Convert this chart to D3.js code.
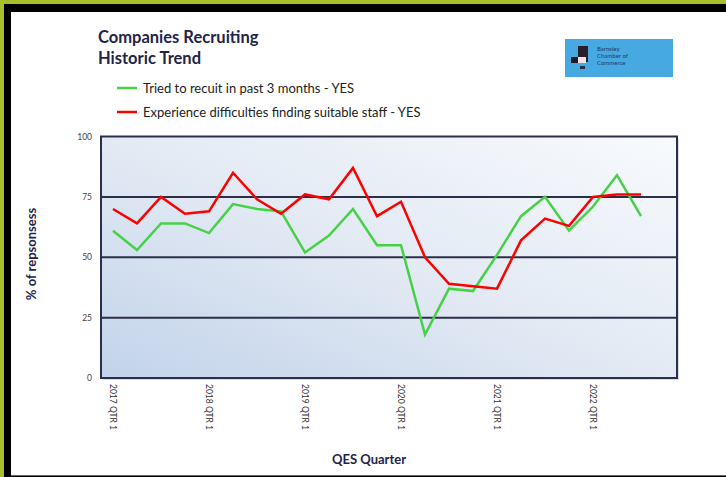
<!DOCTYPE html>
<html>
<head>
<meta charset="utf-8">
<script src="https://cdn.jsdelivr.net/npm/d3@7"></script>
<style>
  body { margin: 0; padding: 0; background: #fff; }
  svg { display: block; font-family: Lato, "Open Sans", sans-serif; }
</style>
</head>
<body>
<div class="plot"></div>
<script>
// quarters on the category axis (last slot is empty)
let years = [2017, 2018, 2019, 2020, 2021, 2022]
let quarters = []
years.forEach(function(y){
  for (let q = 1; q <= 4; q++) quarters.push(y + " QTR " + q)
})
let tried = [61, 53, 64, 64, 60, 72, 70, 69, 52, 59, 70, 55, 55, 18, 37, 36, 51, 67, 75, 61, 71, 84, 67]
let difficulties = [70, 64, 75, 68, 69, 85, 74, 68, 76, 74, 87, 67, 73, 50, 39, 38, 37, 57, 66, 63, 75, 76, 76]
let yTicks = [0, 25, 50, 75, 100]
let seriesNames = ["Tried to recuit in past 3 months - YES", "Experience difficulties finding suitable staff - YES"]
let seriesColors = ["#47d147", "#ff0000"]

let W = 726, H = 477
let plot = {left: 101, right: 677, top: 136.5, bottom: 378}

let svg = d3.select(".plot")
            .append("svg")
            .attr("width", W)
            .attr("height", H)

// page frame: green edge, black band, white sheet
svg.append("rect").attr("width", W).attr("height", H).attr("fill", "#a6bf2d")
svg.append("rect").attr("x", 4).attr("y", 4).attr("width", W - 4).attr("height", H - 4).attr("fill", "#000")
svg.append("rect").attr("x", 11).attr("y", 12).attr("width", W - 11).attr("height", H - 14).attr("fill", "#fff")
svg.append("line").attr("x1", 11).attr("x2", W).attr("y1", H - 1.5).attr("y2", H - 1.5)
   .attr("stroke", "#666").attr("stroke-width", 1)

// title
let title = svg.append("text")
   .attr("x", 98).attr("y", 43)
   .attr("fill", "#23244a").attr("font-weight", "bold").attr("font-size", 16.5)
title.append("tspan").text("Companies Recruiting")
title.append("tspan").attr("x", 98).attr("dy", 21).text("Historic Trend")

// logo box
let logo = svg.append("g").attr("transform", "translate(565,39)")
logo.append("rect").attr("width", 108).attr("height", 38).attr("fill", "#46a9e2")
logo.append("rect").attr("x", 13).attr("y", 7).attr("width", 10).attr("height", 16).attr("fill", "#2a1d2a")
logo.append("rect").attr("x", 6).attr("y", 18).attr("width", 9).attr("height", 6).attr("fill", "#1d1d2a")
logo.append("rect").attr("x", 13).attr("y", 18).attr("width", 8).attr("height", 6).attr("fill", "#f3e3e3")
logo.append("rect").attr("x", 15).attr("y", 27).attr("width", 5).attr("height", 3).attr("fill", "#234")
let logoText = logo.append("text").attr("x", 32).attr("y", 12)
   .attr("font-size", 6).attr("fill", "#1e3a6a")
logoText.append("tspan").text("Barnsley")
logoText.append("tspan").attr("x", 32).attr("dy", 7).text("Chamber of")
logoText.append("tspan").attr("x", 32).attr("dy", 7).text("Commerce")

// legend
let legend = svg.selectAll(".legend")
   .data(seriesNames)
   .enter()
   .append("g")
   .attr("class", "legend")
   .attr("transform", function(d, i){ return "translate(117," + (88 + i * 24) + ")" })
legend.append("line")
   .attr("x1", 0).attr("x2", 20)
   .attr("stroke", function(d, i){ return seriesColors[i] })
   .attr("stroke-width", 2.5)
legend.append("text")
   .attr("x", 26).attr("dy", "0.35em")
   .attr("font-size", 13).attr("fill", "#222")
   .text(function(d){ return d })

// scales
let xScale = d3.scaleBand().domain(quarters).range([plot.left, plot.right])
let yScale = d3.scaleLinear().domain([0, 100]).range([plot.bottom, plot.top])

// plot background gradient
let defs = svg.append("defs")
let grad = defs.append("linearGradient").attr("id", "bg")
   .attr("x1", "0%").attr("y1", "100%").attr("x2", "100%").attr("y2", "0%")
grad.append("stop").attr("offset", "0%").attr("stop-color", "#c2d3ea")
grad.append("stop").attr("offset", "50%").attr("stop-color", "#e3eaf4")
grad.append("stop").attr("offset", "100%").attr("stop-color", "#f8fafd")

// faint shadow
svg.append("rect")
   .attr("x", plot.left + 2).attr("y", plot.top + 2)
   .attr("width", plot.right - plot.left).attr("height", plot.bottom - plot.top)
   .attr("fill", "#d9dde6")
svg.append("rect")
   .attr("x", plot.left).attr("y", plot.top)
   .attr("width", plot.right - plot.left).attr("height", plot.bottom - plot.top)
   .attr("fill", "url(#bg)")

// gridlines
svg.selectAll(".grid")
   .data(yTicks.filter(function(t){ return t > 0 && t < 100 }))
   .enter()
   .append("line")
   .attr("class", "grid")
   .attr("x1", plot.left).attr("x2", plot.right)
   .attr("y1", function(d){ return yScale(d) })
   .attr("y2", function(d){ return yScale(d) })
   .attr("stroke", "#2c2f4a").attr("stroke-width", 2)

// frame
svg.append("rect")
   .attr("x", plot.left).attr("y", plot.top)
   .attr("width", plot.right - plot.left).attr("height", plot.bottom - plot.top)
   .attr("fill", "none").attr("stroke", "#2c2f4a").attr("stroke-width", 2)

// y axis
let yAxis = d3.axisLeft(yScale).tickValues(yTicks).tickSize(0).tickPadding(9)
let gy = svg.append("g")
   .attr("transform", "translate(" + plot.left + ",0)")
   .call(yAxis)
gy.select(".domain").remove()
gy.selectAll("text").attr("font-size", 8.5).attr("fill", "#444").attr("font-family", "Lato, sans-serif")

// x axis labels, only first quarters
let xAxis = d3.axisBottom(xScale)
   .tickValues(quarters.filter(function(q){ return q.endsWith("QTR 1") }))
   .tickSize(0)
let gx = svg.append("g")
   .attr("transform", "translate(0," + plot.bottom + ")")
   .call(xAxis)
gx.select(".domain").remove()
gx.selectAll("text")
   .attr("font-size", 8.5).attr("fill", "#333").attr("font-family", "Lato, sans-serif")
   .attr("transform", "rotate(90)")
   .attr("x", 6).attr("y", 0).attr("dy", "0.35em")
   .style("text-anchor", "start")

// axis titles
svg.append("text")
   .attr("transform", "translate(36,254) rotate(-90)")
   .attr("text-anchor", "middle").attr("font-weight", "bold").attr("font-size", 13)
   .attr("fill", "#23244a")
   .text("% of repsonsess")
svg.append("text")
   .attr("x", 369).attr("y", 464)
   .attr("text-anchor", "middle").attr("font-weight", "bold").attr("font-size", 13)
   .attr("fill", "#23244a")
   .text("QES Quarter")

// series lines
let line = d3.line()
   .x(function(d, i){ return xScale(quarters[i]) + xScale.bandwidth() / 2 })
   .y(function(d){ return yScale(d) })
let series = [tried, difficulties]
series.forEach(function(s, i){
  svg.append("path")
     .datum(s)
     .attr("d", line)
     .attr("fill", "none")
     .attr("stroke", seriesColors[i])
     .attr("stroke-width", 2.5)
     .attr("stroke-linejoin", "miter")
})
</script>
</body>
</html>
